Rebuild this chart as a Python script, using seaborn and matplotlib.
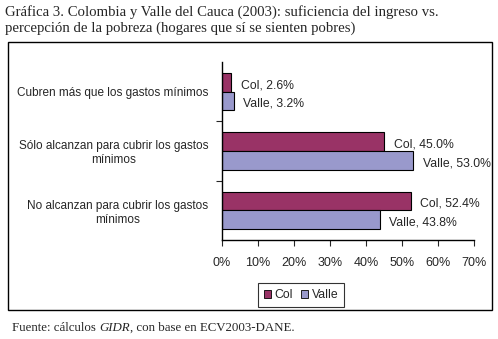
import matplotlib
matplotlib.use("Agg")
import matplotlib.pyplot as plt
import seaborn as sns
import pandas as pd
from matplotlib.patches import Rectangle, Patch

categories = ["Cubren más que los gastos mínimos",
              "Sólo alcanzan para cubrir los gastos\nmínimos",
              "No alcanzan para cubrir los gastos\nmínimos"]
series = ["Col", "Valle"]
col_values = [2.6, 45.0, 52.4]
valle_values = [3.2, 53.0, 43.8]
xticks = [0, 10, 20, 30, 40, 50, 60, 70]
colors = {"Col": "#993366", "Valle": "#9999CC"}

rows = []
for c, v in zip(categories, col_values):
    rows.append({"cat": c, "serie": "Col", "val": v})
for c, v in zip(categories, valle_values):
    rows.append({"cat": c, "serie": "Valle", "val": v})
df = pd.DataFrame(rows)

sns.set_style("white")
plt.rcParams["font.family"] = ["Liberation Sans", "DejaVu Sans"]

fig = plt.figure(figsize=(4.98, 3.39), dpi=100)
ax = fig.add_axes([222/498, 1-240/339, (474-222)/498, (240-62)/339])

sns.barplot(data=df, y="cat", x="val", hue="serie", order=categories,
            hue_order=series, palette=colors, orient="h", width=0.63,
            saturation=1, edgecolor="black", linewidth=0.8, ax=ax, legend=False)

ax.set_xlim(0, 70)
ax.set_ylim(2.5, -0.5)
ax.set_xticks(xticks)
ax.set_xticklabels([f"{t}%" for t in xticks], fontsize=9)
ax.set_xlabel("")
ax.set_ylabel("")
for lab in ax.get_yticklabels():
    lab.set_multialignment("center")
    lab.set_fontsize(8.5)
ax.tick_params(axis="y", length=0, pad=10)
ax.tick_params(axis="x", length=4, direction="out", width=0.8, pad=8, bottom=True)
ax.set_yticks([0.5, 1.5], minor=True)
ax.tick_params(axis="y", which="minor", length=4, direction="out", left=True, width=0.8)
for s in ["top", "right"]:
    ax.spines[s].set_visible(False)
for s in ["left", "bottom"]:
    ax.spines[s].set_color("black")
    ax.spines[s].set_linewidth(1.0)

# data labels
for container, name in zip(ax.containers, series):
    for bar in container:
        w = bar.get_width()
        yc = bar.get_y() + bar.get_height() / 2
        ax.annotate(f"{name}, {w:.1f}%", xy=(w, yc), xytext=(7, -2),
                    textcoords="offset points", va="center", ha="left",
                    fontsize=8.8)

# outer box
fig.patches.append(Rectangle((8/498, 1-310/339), (492-8)/498, (310-42)/339,
                             transform=fig.transFigure, fill=False,
                             edgecolor="black", linewidth=1.0))

handles = [Patch(facecolor=colors[s], edgecolor="black", linewidth=0.6, label=s) for s in series]
leg = fig.legend(handles=handles, ncol=2, loc="center",
                 bbox_to_anchor=(301/498, 1-295/339), frameon=True,
                 fontsize=8.8, handlelength=0.6, handleheight=0.6,
                 handletextpad=0.3, columnspacing=0.6, borderpad=0.5,
                 fancybox=False)
leg.get_frame().set_edgecolor("black")
leg.get_frame().set_linewidth(0.8)

fig.text(5/498, 1-12/339, "Gráfica 3. Colombia y Valle del Cauca (2003): suficiencia del ingreso vs.",
         family="Liberation Serif", fontsize=10.6, va="center", ha="left")
fig.text(5/498, 1-28/339, "percepción de la pobreza (hogares que sí se sienten pobres)",
         family="Liberation Serif", fontsize=10.6, va="center", ha="left")
fs = 9.3
t1 = fig.text(12/498, 1-328/339, "Fuente: cálculos ", family="Liberation Serif",
              fontsize=fs, va="center", ha="left")
fig.canvas.draw()
r = fig.canvas.get_renderer()
bb = t1.get_window_extent(r)
t2 = fig.text(bb.x1 / fig.bbox.width, 1-328/339, "GIDR", family="Liberation Serif",
              style="italic", fontsize=fs, va="center", ha="left")
bb2 = t2.get_window_extent(r)
fig.text(bb2.x1 / fig.bbox.width, 1-328/339, ", con base en ECV2003-DANE.",
         family="Liberation Serif", fontsize=fs, va="center", ha="left")

fig.savefig("out.png", dpi=100)
